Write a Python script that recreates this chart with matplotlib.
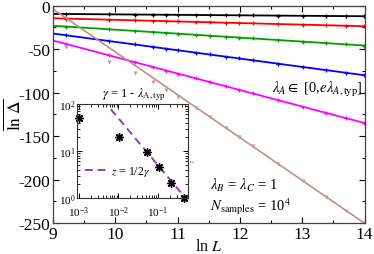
import matplotlib.pyplot as plt
import numpy as np

plt.rcParams['font.family'] = ['Liberation Serif', 'DejaVu Serif']
plt.rcParams['mathtext.fontset'] = 'stix'
plt.rcParams['axes.unicode_minus'] = False

# sample sizes, as ln L
ln_L = [9.210, 9.903, 10.309, 10.597, 10.820, 11.002, 11.290, 11.513,
        11.775, 11.983, 12.206, 12.612, 13.017, 13.385, 13.710, 13.998]

# mean ln Delta for each lambda_A,typ
black = [-9.5, -9.9, -10.1, -10.3, -10.4, -10.5, -10.6, -10.8,
         -10.9, -11.0, -11.1, -11.4, -11.6, -11.8, -11.9, -12.1]
red = [-14.8, -16.1, -16.8, -17.3, -17.8, -18.1, -18.6, -19.0,
       -19.5, -19.9, -20.3, -21.0, -21.8, -22.5, -23.1, -23.6]
green = [-24.0, -27.1, -29.0, -30.3, -31.3, -32.1, -33.4, -34.5,
         -35.7, -36.6, -37.6, -39.5, -41.3, -43.0, -44.5, -45.8]
blue = [-34.0, -40.7, -44.6, -47.3, -49.5, -51.2, -54.0, -56.1,
        -58.6, -60.6, -62.8, -66.7, -70.6, -74.1, -77.2, -80.0]
magenta = [-44.0, -57.2, -64.9, -70.3, -74.6, -78.0, -83.5, -87.8,
           -92.7, -96.7, -100.9, -108.6, -116.3, -123.3, -129.5, -135.0]
brown = [-47.8, -64.4, -77.4, -88.1, -97.0, -105.5, -118.0, -128.0,
         -140.5, -150.8, -161.8, -181.8, -201.8, -220.0, -236.0, -250.3]

# inset: gamma = 1 - lambda_A,typ vs fitted exponent z
gamma = [0.001, 0.0104, 0.054, 0.105, 0.21, 0.45]
z_fit = [50.0, 19.5, 9.7, 4.5, 2.1, 1.0]

fig = plt.figure(figsize=(3.74, 2.55), dpi=100)
ax = fig.add_axes([0.1417, 0.1216, 0.833, 0.852])

x_fit = np.array([9.0, 14.0])
lnx = np.array(ln_L)
for vals, col in [(black, 'black'), (red, '#ff0000'), (green, '#00a000'),
                  (blue, '#0000ff'), (magenta, '#ff00ff')]:
    p = np.polyfit(lnx, vals, 1)
    ax.plot(x_fit, np.polyval(p, x_fit), color=col, lw=1.3)
    ax.plot(lnx, vals, '+', color=col, ms=3.5, mew=0.9)

# brown: fit only the large-L points
big = lnx >= 11.5
p = np.polyfit(lnx[big], np.array(brown)[big], 1)
ax.plot(x_fit, np.polyval(p, x_fit), color='#bc8f8f', lw=1.2)
ax.plot(lnx, brown, 'v', color='#c49a9a', ms=3, mew=0)

ax.set_xlim(9, 14)
ax.set_ylim(-250, 0)
ax.set_xticks(range(9, 15))
ax.set_xticks(np.arange(9, 14.01, 0.5), minor=True)
ax.set_yticks(range(-250, 1, 50))
ax.set_yticks(range(-250, 1, 25), minor=True)
ax.tick_params(which='both', direction='in', top=True, right=True,
               labelsize=12.5, pad=2)
ax.tick_params(which='major', length=4, width=0.8)
ax.tick_params(which='minor', length=2, width=0.8)
for s in ax.spines.values():
    s.set_linewidth(0.9)
    s.set_color('0.25')

ax.set_xlabel(r'ln $L$', fontsize=11.5, labelpad=-3)
ax.set_ylabel(r'$\overline{\mathrm{ln}\ \Delta}$', fontsize=12.5, labelpad=-4)

ax.text(0.995, 0.62, r'$\lambda_A \in$ [0,$e\lambda_{A,\mathrm{typ}}$]',
        transform=ax.transAxes, ha='right', va='center', fontsize=10.5)
ax.text(0.505, 0.178, r'$\lambda_B$ = $\lambda_C$ = 1',
        transform=ax.transAxes, ha='left', va='center', fontsize=10.5)
ax.text(0.505, 0.08, r'$N_{\mathrm{samples}}$ = 10$^4$',
        transform=ax.transAxes, ha='left', va='center', fontsize=10.5)
ax.text(0.258, 0.595, r'$\gamma$ = 1 - $\lambda_{\mathrm{A,typ}}$',
        transform=ax.transAxes, ha='center', va='center', fontsize=9)

# inset
axin = fig.add_axes([0.2059, 0.2196, 0.2968, 0.3686])
axin.set_xscale('log')
axin.set_yscale('log')
g_line = np.array([0.004, 0.58])
axin.plot(g_line, 1 / (2 * g_line), '--', color='#8a3ccf', lw=1.4,
          dashes=(4, 2.5), label=r'$z$ = 1/2$\gamma$')
axin.plot(gamma, z_fit, 'o', color='black', ms=3, clip_on=False)
axin.plot(gamma, z_fit, marker=(8, 2, 0), ls='none', color='black',
          ms=6, mew=1.0, clip_on=False)
axin.set_xlim(9e-4, 0.58)
axin.set_ylim(1, 100)
axin.tick_params(which='both', direction='in', top=True, right=True,
                 labelsize=8)
axin.tick_params(axis='x', pad=4.5)
axin.tick_params(axis='y', pad=1)
axin.tick_params(which='major', length=3.5, width=0.7)
axin.tick_params(which='minor', length=2, width=0.6)
for s in axin.spines.values():
    s.set_linewidth(0.8)
    s.set_color('0.2')
axin.legend(loc='center left', bbox_to_anchor=(0.07, 0.287), frameon=False,
            fontsize=8.5, borderpad=0, borderaxespad=0, handlelength=1.8,
            handletextpad=0.4)
fig.text(193 / 374, 1 - 161 / 255, r'$z$', fontsize=4, rotation=90,
         ha='center', va='center')

fig.savefig('out.png', dpi=100)
